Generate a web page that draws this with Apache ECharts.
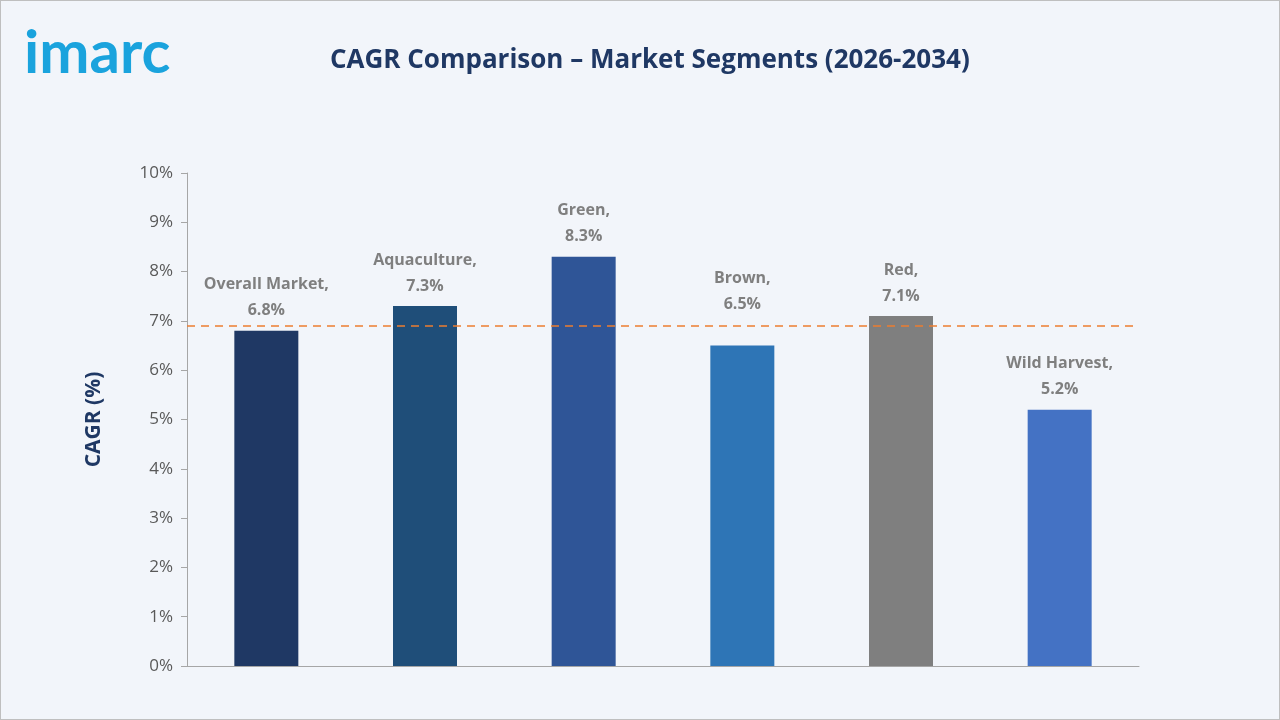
<!DOCTYPE html><html><head><meta charset="utf-8">
<script src="https://cdn.jsdelivr.net/npm/echarts@6/dist/echarts.min.js"></script>
<style>body{margin:0;background:#f2f5fa}#c{width:1280px;height:720px;box-sizing:border-box;border:1px solid #bfbfbf}</style>
</head><body><div id="c"></div><script>
const categories=["Overall Market","Aquaculture","Green","Brown","Red","Wild Harvest"];
const values=[6.8,7.3,8.3,6.5,7.1,5.2];
const colors=["#1f3864","#1f4e79","#2f5597","#2e75b6","#7f7f7f","#4472c4"];
const refLine=6.9;
const chart=echarts.init(document.getElementById('c'));
chart.setOption({
backgroundColor:'#f2f5fa',
title:[{text:'CAGR Comparison – Market Segments (2026-2034)',left:324,top:42,textStyle:{fontFamily:'Open Sans',fontSize:26,fontWeight:'bold',color:'#1f3864'}},
{text:'imarc',left:18,top:18,textStyle:{fontFamily:'Lato',fontSize:60,fontWeight:'bold',color:'#1aa3dd'}}],
grid:{left:186,right:140,top:172,bottom:53},
xAxis:{type:'category',data:categories,axisTick:{show:false},axisLabel:{show:false},axisLine:{lineStyle:{color:'#a6a6a6'}}},
yAxis:{type:'value',min:0,max:10,interval:1,name:'CAGR (%)',nameLocation:'middle',nameGap:82,nameTextStyle:{fontFamily:'Open Sans',fontSize:21,fontWeight:'bold',color:'#1f3864'},
axisLine:{show:true,lineStyle:{color:'#a6a6a6'}},axisTick:{show:true,length:6,lineStyle:{color:'#a6a6a6'}},splitLine:{show:false},
axisLabel:{formatter:'{value}%',fontFamily:'Open Sans',fontSize:17,color:'#595959',margin:14}},
series:[{type:'bar',barWidth:64,z:3,data:values.map((v,i)=>({value:v,itemStyle:{color:colors[i]},label:{distance:i===3?28:7}})),
label:{show:true,position:'top',distance:7,formatter:p=>p.name+',\n'+p.value.toFixed(1)+'%',fontFamily:'Open Sans',fontSize:16,fontWeight:'bold',color:'#7f7f7f',lineHeight:26},
markLine:{symbol:'none',silent:true,label:{show:false},lineStyle:{color:'#ed7d31',type:[8,6],width:1.5},data:[{yAxis:refLine}]}}]
});
</script></body></html>
